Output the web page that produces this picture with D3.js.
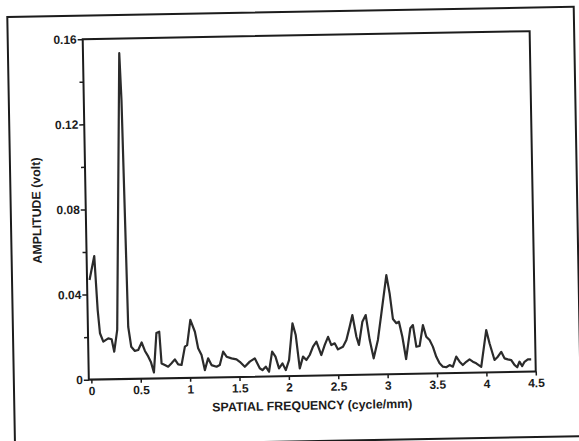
<!DOCTYPE html>
<html><head><meta charset="utf-8">
<script src="https://cdn.jsdelivr.net/npm/d3@7"></script>
<style>html,body{margin:0;padding:0;background:#fff;overflow:hidden}</style>
</head><body><svg id="chart" width="579" height="441"></svg>
<script>
const freq = [0, 0.052, 0.077, 0.096, 0.128, 0.179, 0.213, 0.237, 0.271, 0.342,
  0.356, 0.383, 0.410, 0.446, 0.480, 0.516, 0.548, 0.580, 0.606, 0.635,
  0.667, 0.696, 0.714, 0.747, 0.780, 0.815, 0.849, 0.882, 0.916, 0.953,
  0.976, 1.013, 1.057, 1.087, 1.120, 1.151, 1.186, 1.219, 1.270, 1.303,
  1.339, 1.373, 1.423, 1.473, 1.506, 1.556, 1.607, 1.658, 1.707, 1.734,
  1.768, 1.800, 1.835, 1.868, 1.902, 1.938, 1.970, 2.005, 2.046, 2.077,
  2.112, 2.147, 2.181, 2.215, 2.250, 2.285, 2.333, 2.369, 2.404, 2.436,
  2.470, 2.502, 2.553, 2.589, 2.625, 2.654, 2.691, 2.715, 2.754, 2.789,
  2.825, 2.862, 2.908, 2.948, 3.005, 3.035, 3.064, 3.098, 3.124, 3.156,
  3.190, 3.238, 3.265, 3.296, 3.329, 3.366, 3.398, 3.431, 3.463, 3.496,
  3.528, 3.561, 3.595, 3.629, 3.662, 3.698, 3.731, 3.763, 3.798, 3.832,
  3.865, 3.899, 3.949, 4.006, 4.037, 4.085, 4.119, 4.154, 4.186, 4.219,
  4.254, 4.286, 4.313, 4.337, 4.364, 4.388, 4.422, 4.456];
const amplitude = [0.0468, 0.0580, 0.0326, 0.0217, 0.0177, 0.0192, 0.0188, 0.0129, 0.0231, 0.1531,
  0.1311, 0.0245, 0.0151, 0.0131, 0.0135, 0.0170, 0.0130, 0.0104, 0.0078, 0.0028,
  0.0213, 0.0219, 0.0070, 0.0062, 0.0054, 0.0070, 0.0088, 0.0064, 0.0061, 0.0147,
  0.0154, 0.0272, 0.0216, 0.0138, 0.0106, 0.0035, 0.0090, 0.0058, 0.0050, 0.0058,
  0.0120, 0.0096, 0.0088, 0.0083, 0.0071, 0.0047, 0.0071, 0.0086, 0.0039, 0.0030,
  0.0046, 0.0022, 0.0116, 0.0092, 0.0037, 0.0060, 0.0028, 0.0075, 0.0247, 0.0192,
  0.0035, 0.0090, 0.0074, 0.0097, 0.0136, 0.0159, 0.0096, 0.0143, 0.0181, 0.0142,
  0.0150, 0.0121, 0.0133, 0.0164, 0.0227, 0.0281, 0.0179, 0.0140, 0.0249, 0.0280,
  0.0162, 0.0076, 0.0162, 0.0287, 0.0466, 0.0380, 0.0259, 0.0239, 0.0246, 0.0175,
  0.0070, 0.0214, 0.0229, 0.0127, 0.0130, 0.0228, 0.0173, 0.0157, 0.0126, 0.0078,
  0.0047, 0.0031, 0.0028, 0.0038, 0.0030, 0.0077, 0.0053, 0.0037, 0.0052, 0.0063,
  0.0052, 0.0044, 0.0027, 0.0199, 0.0137, 0.0058, 0.0073, 0.0096, 0.0065, 0.0060,
  0.0056, 0.0033, 0.0022, 0.0048, 0.0027, 0.0047, 0.0058, 0.0058];
const xTickValues = [0, 0.5, 1, 1.5, 2, 2.5, 3, 3.5, 4, 4.5];
const xTickLabels = ["0", "0.5", "1", "1.5", "2", "2.5", "3", "3.5", "4", "4.5"];
const yTickValues = [0, 0.04, 0.08, 0.12, 0.16];
const yTickLabels = ["0", "0.04", "0.08", "0.12", "0.16"];
const yMinorTicks = [0.02, 0.06, 0.10, 0.14];
const xTitle = "SPATIAL FREQUENCY (cycle/mm)";
const yTitle = "AMPLITUDE (volt)";

const W = 579, H = 441;
const FONT = "'Liberation Sans', Arial, Helvetica, sans-serif";
const INK = "#1c1c1c";
const svg = d3.select("#chart");
svg.append("rect").attr("width", W).attr("height", H).attr("fill", "#fff");
const g = svg.append("g").attr("transform", "rotate(-1.03 289.5 220.5)");

// outer frame
g.append("rect").attr("x", 11).attr("y", 12).attr("width", 566.5).attr("height", 429.5)
  .attr("fill", "none").attr("stroke", INK).attr("stroke-width", 2);

const box = {left: 86, right: 533, top: 35.5, bottom: 376};
const x = d3.scaleLinear().domain([0, 4.5]).range([88.5, 533]);
const y = d3.scaleLinear().domain([0, 0.16]).range([376, 35.5]);

// axes
const xAxis = g.append("g").attr("transform", `translate(0,${box.bottom})`)
  .call(d3.axisBottom(x).tickValues(xTickValues).tickFormat((d, i) => xTickLabels[i]).tickSize(4).tickPadding(3));
const yAxis = g.append("g").attr("transform", `translate(${box.left},0)`)
  .call(d3.axisLeft(y).tickValues(yTickValues).tickFormat((d, i) => yTickLabels[i]).tickSize(5).tickPadding(1));
const yMinor = g.append("g").attr("transform", `translate(${box.left},0)`)
  .call(d3.axisLeft(y).tickValues(yMinorTicks).tickFormat("").tickSize(4));
[xAxis, yAxis, yMinor].forEach(a => {
  a.select(".domain").remove();
  a.selectAll(".tick line").attr("stroke", INK).attr("stroke-width", 1.5);
  a.selectAll(".tick text").attr("fill", INK).style("font-family", FONT)
    .style("font-size", "12px").style("font-weight", "bold");
});

// plot box
g.append("rect").attr("x", box.left).attr("y", box.top)
  .attr("width", box.right - box.left).attr("height", box.bottom - box.top)
  .attr("fill", "none").attr("stroke", INK).attr("stroke-width", 2);

// series line
const pts = freq.map((f, i) => [f, amplitude[i]]);
g.append("path").datum(pts)
  .attr("d", d3.line().x(d => x(d[0])).y(d => y(d[1])))
  .attr("fill", "none").attr("stroke", "#2b2b2b").attr("stroke-width", 2.2)
  .attr("stroke-linejoin", "round");

// titles
g.append("text").attr("x", 309).attr("y", 406).attr("text-anchor", "middle")
  .attr("dominant-baseline", "central").attr("fill", INK)
  .style("font-family", FONT).style("font-size", "12.4px").style("font-weight", "bold")
  .text(xTitle);
g.append("text").attr("transform", "translate(37,206) rotate(-90)").attr("text-anchor", "middle")
  .attr("dominant-baseline", "central").attr("fill", INK)
  .style("font-family", FONT).style("font-size", "12.4px").style("font-weight", "bold")
  .text(yTitle);
</script></body></html>
